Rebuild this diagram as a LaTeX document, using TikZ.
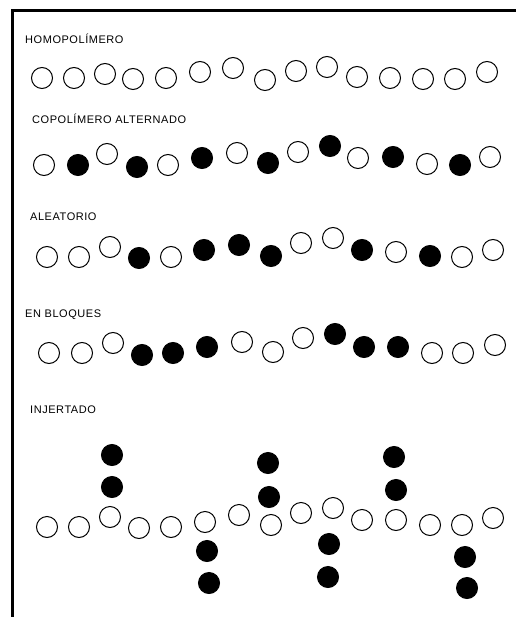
\documentclass[tikz,border=0pt]{standalone}
\usepackage{fontspec}
\newfontfamily\lab[LetterSpace=5]{Liberation Sans}
\begin{document}
\begin{tikzpicture}[x=1pt,y=-1pt,
  mono/.style={circle,draw=black,line width=1pt,minimum size=21pt,inner sep=0pt},
  wc/.style={mono,fill=white},
  bc/.style={mono,fill=black},
  lbl/.style={anchor=base west,inner sep=0pt,font=\lab\fontsize{11}{13}\selectfont}]
\useasboundingbox (0,0) rectangle (516,617);
\draw[line width=3pt] (12,617) -- (12,11) -- (516,11);
% labels
\node[lbl] (l1) at (25,43.3) {HOMOPOLÍMERO};
\node[lbl] (l2) at (32,123.3) {COPOLÍMERO ALTERNADO};
\node[lbl] (l3) at (30,220.7) {ALEATORIO};
\node[lbl] (l4) at (25,317.3) {EN BLOQUES};
\node[lbl] (l5) at (30,413.3) {INJERTADO};
% row 1
\foreach \x/\y/\t [count=\i] in {42/78/wc,74/78/wc,105/74/wc,133/79/wc,166/78/wc,200/72/wc,233/68/wc,265/80/wc,296/71/wc,327/67/wc,357/77/wc,390/78/wc,423/79/wc,455/79/wc,487/72/wc}
  \node[\t] (a\i) at (\x,\y) {};
% row 2
\foreach \x/\y/\t [count=\i] in {44/165/wc,78/165/bc,107/154/wc,137/167/bc,168/165/wc,202/158/bc,237/153/wc,268/163/bc,298/152/wc,330/146/bc,358/158/wc,393/157/bc,427/164/wc,460/165/bc,490/157/wc}
  \node[\t] (b\i) at (\x,\y) {};
% row 3
\foreach \x/\y/\t [count=\i] in {47/257/wc,79/257/wc,110/247/wc,139/258/bc,171/257/wc,204/250/bc,239/245/bc,271/256/bc,301/243/wc,333/238/wc,362/250/bc,396/252/wc,430/256/bc,462/257/wc,493/250/wc}
  \node[\t] (c\i) at (\x,\y) {};
% row 4
\foreach \x/\y/\t [count=\i] in {49/353/wc,82/353/wc,113/343/wc,142/355/bc,173/353/bc,207/347/bc,242/342/wc,273/352/wc,303/338/wc,335/334/bc,364/347/bc,398/347/bc,432/353/wc,463/353/wc,495/345/wc}
  \node[\t] (d\i) at (\x,\y) {};
% row 5 backbone
\foreach \x/\y [count=\i] in {47/527,79/527,110/517,139/528,171/527,205/522,239/515,271/525,301/513,333/508,362/520,396/520,430/525,462/525,493/518}
  \node[wc] (e\i) at (\x,\y) {};
% row 5 grafts
\foreach \x/\y [count=\i] in {112/455,112/487,207/551,209/583,268/463,269/497,329/544,328/577,394/457,396/490,465/557,467/588}
  \node[bc] (g\i) at (\x,\y) {};
\end{tikzpicture}
\end{document}
